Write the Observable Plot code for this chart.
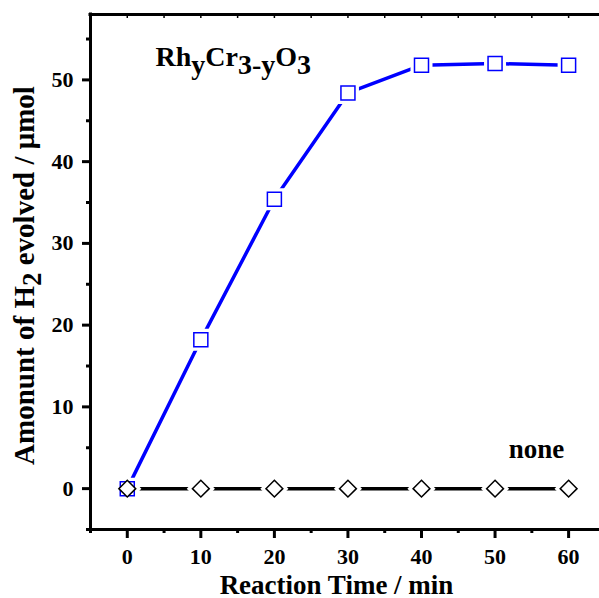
<!DOCTYPE html>
<html>
<head>
<meta charset="utf-8">
<script src="https://cdn.jsdelivr.net/npm/d3@7"></script>
<script src="https://cdn.jsdelivr.net/npm/@observablehq/plot@0.6"></script>
<style>
  html, body { margin: 0; padding: 0; background: #fff; }
  #chart svg { display: block; }
</style>
</head>
<body>
<div id="chart"></div>
<script>
// ---- data ----
const times = [0, 10, 20, 30, 40, 50, 60];
const rhCrValues = [0, 18.2, 35.4, 48.4, 51.8, 52.0, 51.8];
const noneValues = [0, 0, 0, 0, 0, 0, 0];
const xTicks = [0, 10, 20, 30, 40, 50, 60];
const xMinorTicks = [-5, 5, 15, 25, 35, 45, 55];
const xTopTicks = [-5, 0, 5, 10, 15, 20, 25, 30, 35, 40, 45, 50, 55, 60];
const yTicks = [0, 10, 20, 30, 40, 50];
const yMinorTicks = [-5, 5, 15, 25, 35, 45, 55];
const xLabel = "Reaction Time / min";
const yLabel = "Amonunt of H2 evolved / μmol";
const rhLabel = "RhyCr3-yO3";
const noneLabel = "none";

const rhData = times.map((t, i) => ({t, v: rhCrValues[i]}));
const noneData = times.map((t, i) => ({t, v: noneValues[i]}));

const BLUE = "#0000ff";
const FONT = "'Liberation Serif', 'Times New Roman', serif";

const chart = Plot.plot({
  width: 599,
  height: 598,
  marginLeft: 90,
  marginRight: 0,
  marginTop: 14,
  marginBottom: 69,
  x: {domain: [-5, 64.2]},
  y: {domain: [-5, 58]},
  style: {fontFamily: FONT, fontWeight: "bold", fontSize: "22px", background: "#fff", color: "#000", overflow: "visible"},
  marks: [
    Plot.axisY(yTicks, {tickSize: 8, tickPadding: 9, strokeWidth: 3, fontSize: 22, fontWeight: "bold", label: null}),
    Plot.axisY(yMinorTicks, {tickSize: 4, strokeWidth: 3, tickFormat: () => "", label: null}),
    Plot.axisX(xTicks, {tickSize: 9, tickPadding: 10, strokeWidth: 3, fontSize: 22, fontWeight: "bold", label: null}),
    Plot.axisX(xMinorTicks, {tickSize: 4, strokeWidth: 3, tickFormat: () => "", label: null}),
    Plot.axisX(xTopTicks, {anchor: "top", tickSize: -3, strokeWidth: 1.5, tickFormat: () => "", label: null}),
    Plot.ruleX([-5], {strokeWidth: 3, strokeLinecap: "square"}),
    Plot.ruleY([-5], {strokeWidth: 3, strokeLinecap: "square"}),
    Plot.ruleY([58], {strokeWidth: 3, strokeLinecap: "square"}),
    Plot.line(noneData, {x: "t", y: "v", stroke: "#000", strokeWidth: 3.5}),
    Plot.line(rhData, {x: "t", y: "v", stroke: BLUE, strokeWidth: 3.5}),
    // white halos to break the lines around markers
    Plot.dot(rhData, {x: "t", y: "v", symbol: "square", r: 7.9, fill: "#fff", stroke: "#fff", strokeWidth: 8}),
    Plot.dot(noneData, {x: "t", y: "v", symbol: "diamond2", r: 7.6, fill: "#fff", stroke: "#fff", strokeWidth: 8}),
    Plot.dot(rhData, {x: "t", y: "v", symbol: "square", r: 7.9, fill: "none", stroke: BLUE, strokeWidth: 1.5}),
    Plot.dot(noneData, {x: "t", y: "v", symbol: "diamond2", r: 7.6, fill: "#fff", stroke: "#000", strokeWidth: 1.5}),
    // labels
    Plot.text([xLabel], {text: d => d, frameAnchor: "bottom", dx: -8.5, dy: 64, textAnchor: "middle", lineAnchor: "bottom", fontSize: 27, fontWeight: "bold"}),
    Plot.text([yLabel], {text: d => d, frameAnchor: "left", dx: -57, dy: 3.5, rotate: -90, textAnchor: "middle", lineAnchor: "bottom", fontSize: 29, fontWeight: "bold"}),
    Plot.text([rhLabel], {text: d => d, frameAnchor: "top-left", dx: 65, dy: 51, textAnchor: "start", lineAnchor: "bottom", fontSize: 28, fontWeight: "bold"}),
    Plot.text([noneLabel], {text: d => d, frameAnchor: "bottom-right", dx: -63, dy: -72, textAnchor: "middle", lineAnchor: "bottom", fontSize: 27, fontWeight: "bold"})
  ]
});

// subscripts
function rich(svg, plain, parts, shift, subSize) {
  d3.select(svg).selectAll("text").filter(function () { return this.textContent === plain; }).each(function () {
    const t = d3.select(this);
    t.text(null);
    let prevSub = false;
    parts.forEach(([s, sub]) => {
      const ts = t.append("tspan").text(s);
      if (sub && !prevSub) ts.attr("dy", shift);
      if (!sub && prevSub) ts.attr("dy", -shift);
      if (sub) ts.attr("font-size", subSize);
      prevSub = sub;
    });
  });
}
rich(chart, yLabel, [["Amonunt of H", false], ["2", true], [" evolved / μmol", false]], 7, 27);
rich(chart, rhLabel, [["Rh", false], ["y", true], ["Cr", false], ["3-y", true], ["O", false], ["3", true]], 8, 28);

document.getElementById("chart").appendChild(chart);
</script>
</body>
</html>
